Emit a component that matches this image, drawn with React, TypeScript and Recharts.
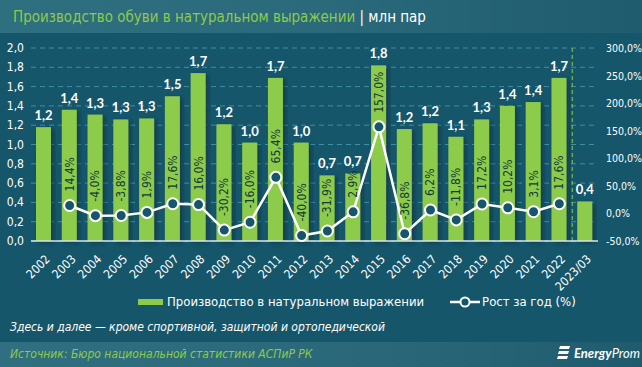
import React from "react";
import {
  ComposedChart,
  Bar,
  Line,
  XAxis,
  YAxis,
  CartesianGrid,
  LabelList,
  ReferenceLine,
} from "recharts";

const years = [
  "2002", "2003", "2004", "2005", "2006", "2007", "2008", "2009", "2010", "2011",
  "2012", "2013", "2014", "2015", "2016", "2017", "2018", "2019", "2020", "2021",
  "2022", "2023/03",
];
const production = [
  1.18, 1.36, 1.31, 1.26, 1.27, 1.5, 1.74, 1.21, 1.02, 1.69,
  1.02, 0.68, 0.7, 1.82, 1.16, 1.22, 1.08, 1.26, 1.4, 1.44,
  1.69, 0.41,
];
const growth: (number | null)[] = [
  null, 14.4, -4.0, -3.8, 1.9, 17.6, 16.0, -30.2, -16.0, 65.4,
  -40.0, -31.9, 2.9, 157.0, -36.8, 6.2, -11.8, 17.2, 10.2, 3.1,
  17.6, null,
];
const leftTicks = [0, 0.2, 0.4, 0.6, 0.8, 1.0, 1.2, 1.4, 1.6, 1.8, 2.0];
const rightTicks = [-50, 0, 50, 100, 150, 200, 250, 300];

const data = years.map((y, i) => ({ year: y, prod: production[i], growth: growth[i] }));

const BG = "#15566a";
const GREEN = "#8dcb4b";
const FONT = "'Liberation Sans Narrow', 'DejaVu Sans Condensed', Lato, sans-serif";

const fmt1 = (v: number) => v.toFixed(1).replace(".", ",");

const BarShape = (props: any) => {
  const { x, y, width, height } = props;
  if (height <= 0) return null;
  return <rect x={x} y={y} width={width} height={height} fill={GREEN} filter="url(#barShadow)" />;
};

const GrowthLabel = (props: any) => {
  const { x, y, value } = props;
  if (value === null || value === undefined) return null;
  const tx = x + 4;
  const ty = y - 14;
  return (
    <text
      x={tx}
      y={ty}
      transform={`rotate(-90, ${tx}, ${ty})`}
      textAnchor="start"
      fill="#143a3a"
      fontSize={12}
      fontFamily={FONT}
    >
      {fmt1(value) + "%"}
    </text>
  );
};

const XTick = (props: any) => {
  const { x, y, payload } = props;
  return (
    <text
      x={x + 4}
      y={y + 8}
      transform={`rotate(-45, ${x + 4}, ${y + 8})`}
      textAnchor="end"
      fill="#ffffff"
      fontSize={12}
      fontFamily={FONT}
      dominantBaseline="central"
    >
      {payload.value}
    </text>
  );
};

const LeftTick = (props: any) => {
  const { y, payload } = props;
  return (
    <text x={24} y={y} textAnchor="end" dominantBaseline="central" fill="#ffffff" fontSize={12} fontFamily={FONT}>
      {fmt1(payload.value)}
    </text>
  );
};

const RightTick = (props: any) => {
  const { y, payload } = props;
  return (
    <text x={606} y={y} textAnchor="start" dominantBaseline="central" fill="#ffffff" fontSize={10.5} fontFamily={FONT}>
      {fmt1(payload.value) + "%"}
    </text>
  );
};

export default function App() {
  return (
    <div
      style={{
        position: "absolute",
        left: 0,
        top: 0,
        width: 642,
        height: 367,
        background: BG,
        overflow: "hidden",
        fontFamily: FONT,
      }}
    >
      <div
        style={{
          position: "absolute",
          left: 0,
          top: 0,
          width: 642,
          height: 33,
          background: "linear-gradient(90deg, #2e6f80 0%, #2a6a7b 50%, #1f5c6d 100%)",
        }}
      />
      <div
        style={{
          position: "absolute",
          left: 13,
          top: 8,
          fontSize: 15,
          whiteSpace: "nowrap",
          fontFamily: FONT,
        }}
      >
        <span style={{ color: GREEN }}>Производство обуви в натуральном выражении</span>
        <span style={{ color: "#ffffff" }}> | млн пар</span>
      </div>

      <div style={{ position: "absolute", left: 0, top: 0 }}>
        <ComposedChart
          width={642}
          height={300}
          data={data}
          margin={{ top: 48, right: 0, left: 0, bottom: 0 }}
          barCategoryGap={0}
        >
          <defs>
            <filter id="barShadow" x="-30%" y="-10%" width="160%" height="120%">
              <feDropShadow dx="3" dy="2" stdDeviation="2" floodColor="#0a2f3a" floodOpacity="0.6" />
            </filter>
          </defs>
          <CartesianGrid
            vertical={false}
            stroke="#3d90a6"
            strokeDasharray="5 4"
            yAxisId="left"
          />
          <XAxis
            dataKey="year"
            height={59}
            interval={0}
            tickLine={false}
            axisLine={{ stroke: "#d8e4e8", strokeWidth: 1.5 }}
            tick={<XTick />}
          />
          <YAxis
            yAxisId="left"
            width={31}
            domain={[0, 2]}
            ticks={leftTicks}
            interval={0}
            axisLine={false}
            tickLine={false}
            tick={<LeftTick />}
          />
          <YAxis
            yAxisId="right"
            orientation="right"
            width={44}
            domain={[-50, 300]}
            ticks={rightTicks}
            interval={0}
            axisLine={false}
            tickLine={false}
            tick={<RightTick />}
          />
          <ReferenceLine
            yAxisId="left"
            x="2023/03"
            position="start"
            stroke={GREEN}
            strokeDasharray="4 3"
            strokeWidth={1}
          />
          <Bar
            yAxisId="left"
            dataKey="prod"
            barSize={15}
            fill={GREEN}
            shape={<BarShape />}
            isAnimationActive={false}
          >
            <LabelList
              dataKey="prod"
              position="top"
              offset={7}
              formatter={(v: any) => fmt1(Number(v))}
              fill="#ffffff"
              fontSize={13}
              fontWeight="bold"
              fontFamily="Lato, sans-serif"
            />
          </Bar>
          <Line
            yAxisId="right"
            dataKey="growth"
            stroke="#ffffff"
            strokeWidth={2.5}
            dot={{ r: 5.5, fill: BG, stroke: "#ffffff", strokeWidth: 2 }}
            isAnimationActive={false}
            connectNulls={false}
          >
            <LabelList dataKey="growth" content={<GrowthLabel />} />
          </Line>
        </ComposedChart>
      </div>

      {/* Legend */}
      <div
        style={{
          position: "absolute",
          left: 138,
          top: 294,
          display: "flex",
          alignItems: "center",
          color: "#ffffff",
          fontSize: 13,
          whiteSpace: "nowrap",
        }}
      >
        <div style={{ width: 25, height: 6, background: GREEN, marginRight: 4 }} />
        <span>Производство в натуральном выражении</span>
        <svg width={30} height={14} style={{ marginLeft: 26, marginRight: 2 }}>
          <line x1={0} y1={7} x2={30} y2={7} stroke="#ffffff" strokeWidth={2.5} />
          <circle cx={15} cy={7} r={4.5} fill={BG} stroke="#ffffff" strokeWidth={2} />
        </svg>
        <span>Рост за год (%)</span>
      </div>

      <div
        style={{
          position: "absolute",
          left: 10,
          top: 320,
          color: "#ffffff",
          fontSize: 12,
          fontStyle: "italic",
          whiteSpace: "nowrap",
        }}
      >
        Здесь и далее — кроме спортивной, защитной и ортопедической
      </div>

      <div
        style={{
          position: "absolute",
          left: 0,
          top: 342,
          width: 642,
          height: 25,
          background: "linear-gradient(90deg, #2f6f80 0%, #2a6879 60%, #1f5b6c 100%)",
        }}
      />
      <div
        style={{
          position: "absolute",
          left: 10,
          top: 347,
          color: GREEN,
          fontSize: 12,
          fontStyle: "italic",
          whiteSpace: "nowrap",
        }}
      >
        Источник: Бюро национальной статистики АСПиР РК
      </div>
      <div
        style={{
          position: "absolute",
          left: 557,
          top: 345,
          display: "flex",
          alignItems: "center",
          color: "#ffffff",
          whiteSpace: "nowrap",
        }}
      >
        <svg width={14} height={16} style={{ marginRight: 3 }}>
          <path d="M3 1 H13 L12 4 H2 Z" fill="#ffffff" />
          <path d="M2 6 H12 L11 9 H1 Z" fill="#ffffff" />
          <path d="M1 11 H11 L10 14 H0 Z" fill="#ffffff" />
        </svg>
        <span style={{ fontSize: 13, fontStyle: "italic", fontWeight: "bold", fontFamily: "Lato, sans-serif" }}>Energy</span>
        <span style={{ fontSize: 13, fontStyle: "italic", fontFamily: "Lato, sans-serif" }}>Prom</span>
      </div>
    </div>
  );
}
